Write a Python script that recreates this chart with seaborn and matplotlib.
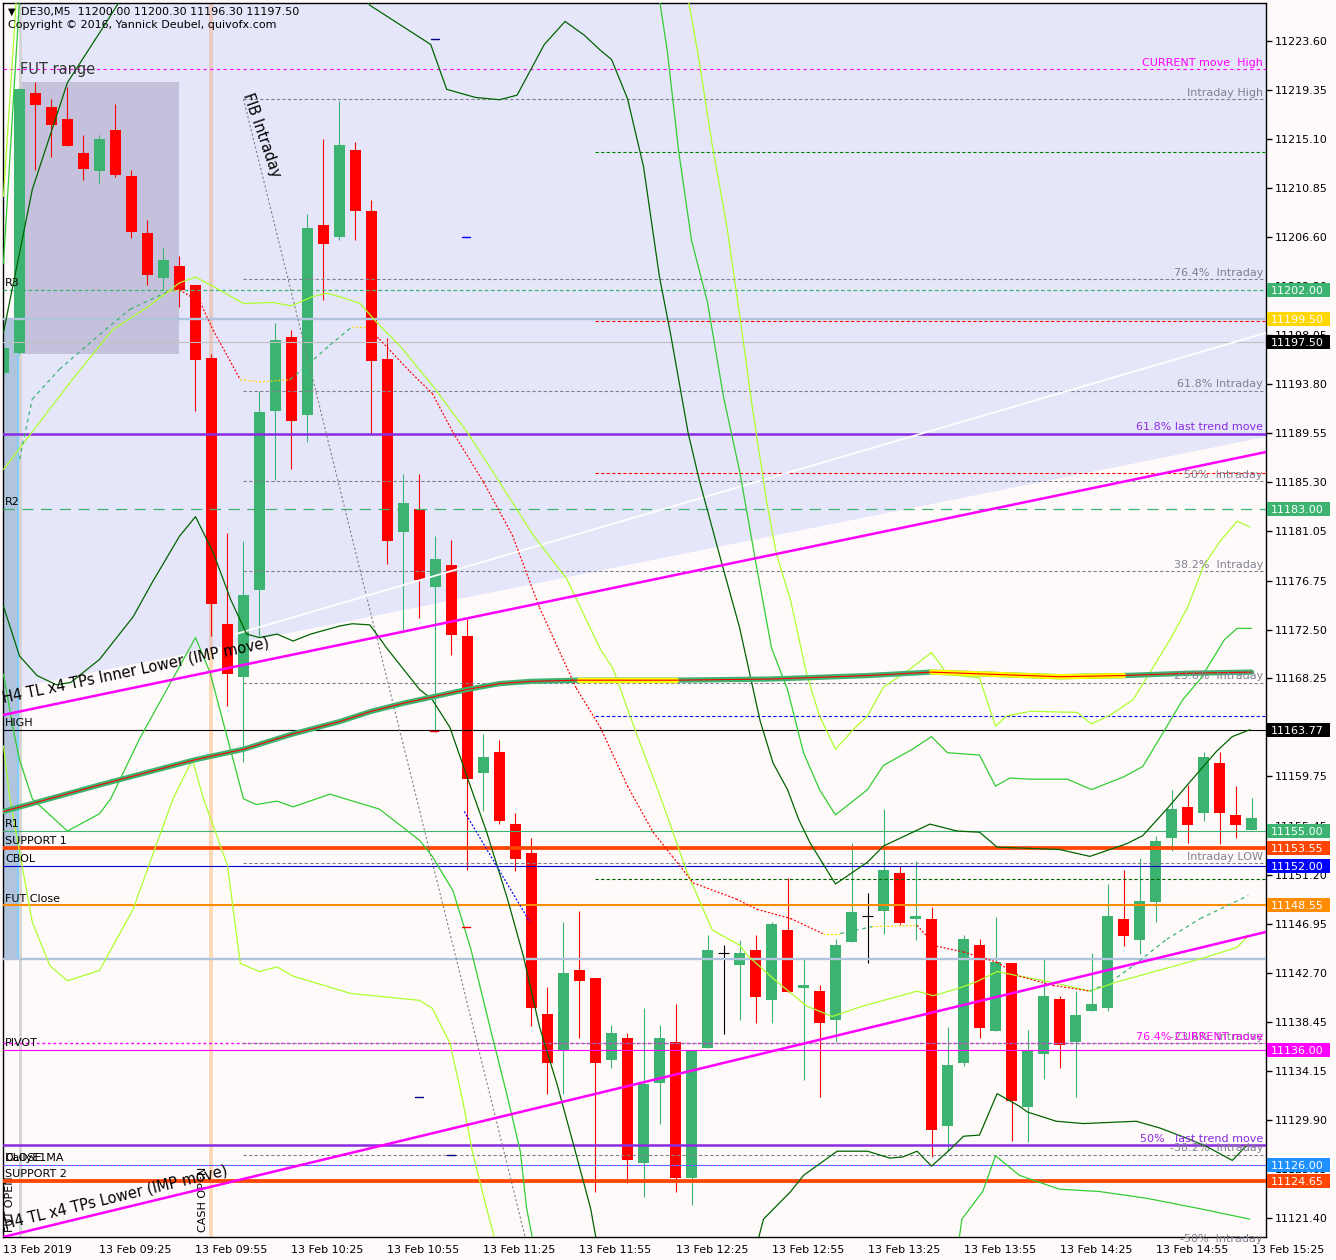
import numpy as np
import pandas as pd
import matplotlib
matplotlib.use("Agg")
import matplotlib.pyplot as plt
import matplotlib.transforms as mtransforms
from matplotlib.patches import Rectangle, Polygon
import seaborn as sns

# ---------------- data ----------------
opens = [11194.8, 11196.5, 11219.1, 11217.9, 11216.8, 11213.9, 11212.3, 11215.9, 11211.9, 11206.9,
         11203.0, 11204.1, 11202.4, 11196.1, 11173.0, 11168.4, 11175.9, 11191.5, 11197.9, 11191.1,
         11207.6, 11206.6, 11214.1, 11208.8, 11196.0, 11181.0, 11183.0, 11176.2, 11178.1, 11171.9,
         11160.0, 11161.9, 11155.6, 11153.1, 11139.1, 11136.0, 11142.9, 11142.2, 11135.1, 11137.0,
         11126.2, 11133.1, 11136.7, 11124.9, 11136.2, 11144.4, 11143.4, 11144.7, 11140.3, 11146.4,
         11141.4, 11141.1, 11138.6, 11145.4, 11147.6, 11148.1, 11151.4, 11147.4, 11147.4, 11129.4,
         11134.9, 11145.1, 11137.6, 11143.5, 11131.0, 11135.6, 11140.4, 11136.7, 11139.4, 11139.6,
         11147.4, 11145.5, 11148.8, 11154.4, 11157.1, 11156.6, 11160.9, 11156.4, 11155.1]
highs = [11197.2, 11219.5, 11220.0, 11218.6, 11219.6, 11215.4, 11215.4, 11218.1, 11212.4, 11208.1,
         11205.6, 11204.9, 11202.4, 11196.4, 11180.9, 11180.2, 11193.2, 11199.1, 11198.5, 11208.6,
         11215.1, 11218.4, 11214.8, 11209.8, 11197.8, 11186.0, 11186.0, 11180.6, 11180.3, 11173.4,
         11163.4, 11162.9, 11156.6, 11154.4, 11141.5, 11147.1, 11148.1, 11142.2, 11138.2, 11137.5,
         11139.6, 11138.2, 11140.0, 11136.0, 11146.0, 11145.1, 11145.5, 11146.0, 11147.1, 11150.9,
         11143.9, 11141.6, 11145.6, 11154.0, 11149.6, 11156.9, 11152.0, 11152.4, 11148.4, 11138.0,
         11146.0, 11145.6, 11147.5, 11143.5, 11137.7, 11143.9, 11140.7, 11141.1, 11144.4, 11150.4,
         11151.6, 11152.7, 11154.6, 11158.6, 11159.0, 11161.9, 11161.9, 11158.9, 11157.9]
lows = [11194.5, 11196.4, 11212.4, 11213.5, 11214.5, 11211.5, 11211.3, 11211.8, 11206.5, 11202.4,
        11202.0, 11200.5, 11191.5, 11171.9, 11165.9, 11161.0, 11171.9, 11185.5, 11186.4, 11188.8,
        11201.1, 11206.3, 11206.3, 11189.6, 11178.2, 11172.5, 11173.5, 11163.6, 11170.3, 11151.6,
        11156.7, 11155.6, 11151.5, 11138.1, 11132.2, 11132.2, 11137.0, 11123.7, 11134.4, 11124.4,
        11123.2, 11129.6, 11123.7, 11122.5, 11136.2, 11137.4, 11138.6, 11138.3, 11138.3, 11141.0,
        11133.4, 11131.9, 11136.7, 11145.4, 11143.5, 11146.1, 11146.8, 11145.5, 11126.7, 11127.2,
        11134.6, 11137.0, 11137.6, 11128.1, 11128.0, 11133.5, 11134.4, 11131.9, 11139.4, 11139.4,
        11145.0, 11144.3, 11147.1, 11153.3, 11154.0, 11155.9, 11153.9, 11154.4, 11155.1]
closes = [11196.9, 11219.4, 11218.0, 11216.3, 11214.5, 11212.5, 11215.1, 11212.0, 11207.0, 11203.3,
          11204.6, 11202.0, 11195.9, 11174.7, 11168.6, 11175.5, 11191.4, 11197.6, 11190.6, 11207.4,
          11206.0, 11214.6, 11208.8, 11195.8, 11180.2, 11183.5, 11176.8, 11178.6, 11172.0, 11159.5,
          11161.4, 11155.9, 11152.6, 11139.6, 11134.9, 11142.7, 11142.0, 11134.9, 11137.5, 11126.4,
          11133.0, 11137.0, 11124.9, 11136.0, 11144.7, 11144.4, 11144.4, 11140.6, 11146.9, 11141.0,
          11141.6, 11138.3, 11145.1, 11148.0, 11147.6, 11151.6, 11147.0, 11147.6, 11129.0, 11134.7,
          11145.6, 11137.9, 11143.6, 11131.6, 11136.0, 11140.7, 11136.4, 11139.0, 11140.0, 11147.6,
          11145.9, 11148.9, 11154.1, 11156.9, 11155.5, 11161.4, 11156.6, 11155.5, 11156.1]
bars = list(range(len(opens)))

time_tick_bars = [0, 6, 12, 18, 24, 30, 36, 42, 48, 54, 60, 66, 72, 78]
time_tick_labels = ['13 Feb 2019', '13 Feb 09:25', '13 Feb 09:55', '13 Feb 10:25', '13 Feb 10:55',
                    '13 Feb 11:25', '13 Feb 11:55', '13 Feb 12:25', '13 Feb 12:55', '13 Feb 13:25',
                    '13 Feb 13:55', '13 Feb 14:25', '13 Feb 14:55', '13 Feb 15:25']
price_tick_labels = ['11223.60', '11219.35', '11215.10', '11210.85', '11206.60', '11202.30', '11198.05',
                     '11193.80', '11189.55', '11185.30', '11181.05', '11176.75', '11172.50', '11168.25',
                     '11164.00', '11159.75', '11155.45', '11151.20', '11146.95', '11142.70', '11138.45',
                     '11134.15', '11129.90', '11125.65', '11121.40']

# pivot style levels (full width, label on the left)
piv_names = ['R3', 'R2', 'HIGH', 'R1', 'SUPPORT 1', 'CBOL', 'FUT Close', 'PIVOT', 'DailyE1MA', 'SUPPORT 2']
piv_prices = [11202.00, 11183.00, 11163.77, 11155.00, 11153.55, 11152.00, 11148.55, 11136.00, 11126.00, 11124.65]
close_label_price = 11126.00

# right-axis price boxes
box_prices = [11202.00, 11199.50, 11197.50, 11183.00, 11163.77, 11155.00, 11153.55, 11152.00,
              11148.55, 11136.00, 11126.00, 11124.65]
box_colors = ['#3cb371', '#ffd700', '#000000', '#3cb371', '#000000', '#3cb371', '#ff4500', '#0000ff',
              '#ff8c00', '#ff00ff', '#1e90ff', '#ff4500']

# intraday fibonacci
fib_start_bar = 15
fib_high = 11218.56
fib_low = 11152.23
fib_ratios = [1.0, 0.764, 0.618, 0.5, 0.382, 0.236, 0.0, -0.236, -0.382, -0.5]
fib_labels = ['Intraday High', '76.4%  Intraday', '61.8% Intraday', '50%  Intraday', '38.2%  Intraday',
              '23.6%  Intraday', 'Intraday LOW', '-23.6%  Intraday', '-38.2%  Intraday', '-50%  Intraday']
fib_diag_bars = [15.0, 32.6]
fib_diag_prices = [11218.56, 11119.75]

current_high = 11221.17
current_764 = 11136.60
trend_618 = 11189.50
trend_50 = 11127.74
range_box_top = 11199.50
range_box_bottom = 11143.89
bid_price = 11197.50

# short dashed levels starting mid-chart
mid_start_bar = 37
mid_levels = [11213.96, 11199.29, 11186.09, 11165.00, 11150.84]
mid_colors = ['#008000', '#ff0000', '#ff0000', '#0000ff', '#006400']

# trend lines (bar, price anchor pairs)
tl_inner_bars = [-0.03, 78.9]
tl_inner_prices = [11165.08, 11187.91]
tl_lower_bars = [-0.03, 78.9]
tl_lower_prices = [11119.75, 11146.24]
channel_white_bars = [14.5, 78.9]
channel_white_prices = [11172.1, 11198.25]
shade_bars = [1.0, 78.9]
shade_prices = [11167.50, 11189.22]

fut_open_bar = 1
cash_open_bar = 13
fut_range_bars = (1, 11)

# moving average (thick)
ma_i = [0, 6, 12, 15, 18, 21, 23, 25, 27, 29, 31, 33, 36, 42, 48, 54, 58, 62, 66, 70, 74, 78]
ma_p = [11156.7, 11159.0, 11161.2, 11162.1, 11163.4, 11164.5, 11165.4, 11166.1, 11166.7, 11167.3,
        11167.8, 11168.0, 11168.1, 11168.1, 11168.2, 11168.5, 11168.8, 11168.6, 11168.4, 11168.5,
        11168.7, 11168.8]

# signal moving average
sig_i = [1.0, 1.8, 3.5, 6.0, 7.9, 10.2, 11.0, 12.3, 13.1, 14.8, 16.0, 17.9, 18.7, 20.4, 21.8, 22.7,
         23.5, 25.4, 26.8, 28.1, 30.0, 31.8, 33.5, 35.8, 37.3, 39.0, 40.6, 41.8, 43.1, 45.8, 47.1,
         49.2, 51.2, 52.3, 54.3, 57.1, 58.3, 60.0, 62.1, 63.5, 65.6, 67.9, 69.2, 70.6, 72.7, 74.8, 77.8]
sig_p = [11187.3, 11192.5, 11195.1, 11198.1, 11200.3, 11201.8, 11202.0, 11200.9, 11198.5, 11194.2,
         11194.0, 11194.2, 11195.1, 11197.2, 11198.8, 11198.8, 11197.7, 11194.9, 11193.0, 11189.6,
         11185.3, 11180.7, 11174.4, 11167.4, 11164.0, 11158.9, 11154.9, 11152.8, 11150.5, 11149.1,
         11148.2, 11147.4, 11146.1, 11146.1, 11146.7, 11146.8, 11145.0, 11144.5, 11143.6, 11142.4,
         11141.6, 11141.1, 11141.9, 11143.3, 11145.6, 11147.4, 11149.4]

# slow yellow-green average
yg_mid_i = [0, 4.3, 6.8, 9.0, 11.0, 12.0, 13.1, 15.0, 16.8, 18.0, 19.3, 20.2, 21.0, 22.3, 23.3, 24.8,
            26.8, 29.0, 31.0, 33.1, 35.2, 37.3, 38.1, 39.6, 41.0, 42.7, 44.3, 46.0, 46.5, 48.1, 50.2,
            51.8, 53.7, 55.8, 57.1, 58.1, 59.6, 60.8, 62.1, 63.5, 65.4, 67.9, 69.6, 74.8, 77.1, 77.8]
yg_mid_p = [11186.4, 11194.2, 11198.5, 11200.5, 11202.6, 11203.1, 11202.3, 11200.8, 11200.9, 11200.6,
            11201.4, 11201.7, 11201.4, 11200.8, 11199.2, 11197.1, 11193.7, 11189.6, 11185.3, 11180.7,
            11176.9, 11170.8, 11169.1, 11163.3, 11158.2, 11151.5, 11146.4, 11145.1, 11144.2, 11142.2,
            11139.8, 11138.9, 11139.8, 11140.6, 11141.1, 11140.7, 11141.3, 11141.9, 11142.8, 11142.4,
            11141.9, 11141.1, 11141.9, 11143.9, 11144.9, 11145.9]

# dark green envelope
dg_up_i = [0, 1.8, 4.0, 6.0, 7.1, 10, 20, 22.9, 26.7, 27.7, 29.5, 31.0, 32.1, 33.8, 35.1, 36.3, 37.3,
           38.0, 39.0, 40.0, 41.0, 41.7, 42.8, 43.5, 45.0, 46.0, 47.3, 48.1, 49.0, 49.7, 50.4, 52.0,
           54.0, 55.0, 57.9, 59.6, 61.0, 62.1, 66.0, 67.9, 70.2, 71.2, 72.7, 74.3, 75.8, 76.8, 77.9]
dg_up_p = [11198.3, 11210.7, 11220.0, 11224.3, 11226.7, 11233.0, 11233.0, 11226.7, 11223.3, 11219.4,
           11218.7, 11218.5, 11218.9, 11223.3, 11225.3, 11224.1, 11222.8, 11222.0, 11218.6, 11212.7,
           11203.1, 11198.1, 11189.5, 11185.4, 11177.7, 11172.7, 11164.5, 11160.9, 11158.6, 11156.0,
           11154.0, 11150.4, 11152.3, 11153.7, 11155.6, 11155.0, 11154.9, 11153.6, 11153.4, 11152.8,
           11153.9, 11154.6, 11156.9, 11159.5, 11161.9, 11163.2, 11163.8]
dg_lo_i = [0, 1.0, 2.1, 3.3, 4.2, 6.0, 8.1, 9.3, 11.0, 12.0, 13.1, 14.2, 15.2, 16.0, 17.1, 18.1, 19.2,
           21.0, 21.8, 22.9, 24.0, 26.0, 26.8, 27.9, 29.0, 30.2, 31.5, 32.5, 33.5, 34.6, 35.6, 36.7,
           37.5, 46.5, 47.5, 49.2, 50.0, 51.2, 52.1, 54.0, 55.4, 56.2, 57.1, 58.0, 59.2, 60.0, 61.0,
           62.1, 63.5, 64.0, 65.8, 67.5, 70.8, 72.3, 74.0, 75.2, 76.8, 77.7]
dg_lo_p = [11174.5, 11170.2, 11168.5, 11167.7, 11167.9, 11169.9, 11173.6, 11176.6, 11180.6, 11182.3,
           11179.2, 11175.1, 11172.1, 11171.8, 11172.1, 11171.5, 11172.1, 11172.8, 11173.0, 11172.9,
           11170.8, 11167.3, 11166.4, 11164.0, 11159.6, 11154.9, 11149.1, 11144.1, 11138.0, 11133.0,
           11127.9, 11122.2, 11116.0, 11116.0, 11121.3, 11123.7, 11125.1, 11126.3, 11127.2, 11127.2,
           11126.6, 11126.7, 11127.2, 11125.9, 11127.4, 11128.5, 11128.6, 11132.2, 11131.1, 11130.6,
           11129.8, 11129.6, 11129.8, 11129.2, 11128.3, 11127.6, 11126.4, 11127.7]

# lime green envelope
lg_up_i = [0, 1.0, 4, 38, 41.0, 41.5, 42.2, 43.0, 44.0, 45.0, 46.0, 47.1, 48.0, 49.0, 50.0, 51.0,
           52.0, 54.0, 55.0, 56.8, 58.0, 59.0, 61.0, 62.0, 62.9, 64.2, 66.5, 68.0, 70.0, 71.2, 72.5,
           73.7, 74.8, 76.3, 77.1, 78.0]
lg_up_p = [11204.3, 11227.2, 11234.0, 11234.0, 11227.2, 11222.6, 11214.0, 11206.3, 11200.9, 11192.7,
           11186.3, 11177.7, 11170.9, 11167.3, 11161.8, 11158.6, 11156.4, 11158.6, 11160.7, 11162.1,
           11163.2, 11161.8, 11161.6, 11158.9, 11159.6, 11159.5, 11159.5, 11158.6, 11159.7, 11160.6,
           11163.6, 11166.4, 11168.2, 11171.6, 11172.6, 11172.6]
lg_lo_i = [0, 0.6, 1.0, 1.8, 4.0, 6.0, 6.7, 8.5, 12.0, 12.9, 15.0, 15.8, 17.1, 18.1, 20.4, 23.5, 26.0,
           26.8, 28.1, 29.2, 30.4, 31.5, 32.3, 32.7, 33.8, 59.2, 59.9, 61.2, 62.0, 63.5, 66.0, 68.5,
           71.5, 74.8, 77.9]
lg_lo_p = [11168.6, 11163.9, 11161.2, 11157.8, 11155.0, 11156.5, 11157.8, 11163.0, 11171.8, 11168.8,
           11157.8, 11157.3, 11157.6, 11157.1, 11158.2, 11156.9, 11154.2, 11152.8, 11149.8, 11144.8,
           11138.0, 11131.9, 11127.2, 11122.2, 11114.4, 11114.4, 11121.3, 11123.7, 11126.8, 11125.1,
           11123.9, 11123.7, 11123.1, 11122.2, 11121.3]

# yellow-green envelope
yg_up_i = [0, 0.8, 4, 40, 42.8, 43.5, 44.3, 45.2, 46.0, 46.8, 47.7, 48.3, 49.2, 50.2, 51.0, 52.0,
           53.1, 54.0, 55.0, 56.5, 58.0, 59.0, 61.0, 62.0, 62.7, 64.2, 67.1, 68.0, 69.2, 70.6, 72.9,
           74.0, 75.0, 76.0, 77.1, 77.9]
yg_up_p = [11210.1, 11227.2, 11234.0, 11234.0, 11227.2, 11221.7, 11214.5, 11207.6, 11199.9, 11191.8,
           11183.6, 11179.1, 11175.0, 11168.6, 11165.0, 11162.1, 11163.8, 11165.0, 11167.5, 11168.9,
           11170.5, 11168.6, 11168.3, 11164.1, 11165.0, 11165.4, 11165.3, 11164.3, 11165.1, 11166.4,
           11171.6, 11174.4, 11178.0, 11180.1, 11181.9, 11181.4]
yg_lo_i = [0, 0.4, 1.8, 2.9, 4.0, 6.0, 8.1, 9.6, 10.6, 11.8, 12.5, 14.0, 14.8, 16.0, 17.1, 18.1, 21.7,
           26.0, 26.8, 27.9, 28.7, 29.3, 30.2, 30.7, 31.3]
yg_lo_p = [11162.4, 11157.8, 11147.1, 11143.3, 11142.0, 11142.9, 11148.2, 11154.0, 11157.8, 11161.2,
           11157.8, 11152.0, 11143.5, 11142.8, 11143.2, 11142.4, 11140.9, 11140.3, 11139.6, 11136.6,
           11131.6, 11127.2, 11122.2, 11119.6, 11114.4]

# zigzag projection (blue dotted)
proj_i = [28.8, 32.9]
proj_p = [11156.7, 11147.1]

# small dash marks
dash_i = [27.0, 28.9, 28.9, 26.0, 28.0, 26.9]
dash_p = [11223.8, 11206.6, 11146.7, 11131.9, 11126.9, 11163.7]
dash_c = ['#000080', '#0000ff', '#ff0000', '#000080', '#000080', '#ff0000']

# ---------------- figure ----------------
sns.set_theme(style='white')
plt.rcParams['font.family'] = ['DejaVu Sans']
plt.rcParams['axes.linewidth'] = 1.0

W, H = 1336, 1260
fig = plt.figure(figsize=(W / 100, H / 100), dpi=100, facecolor='#fffafa')
ax = fig.add_axes([3 / W, 23 / H, 1263 / W, 1234 / H])
ax.set_facecolor('#fffafa')
XMIN, XMAX = -0.031, 78.906
YMIN, YMAX = 11119.75, 11226.90
trans = mtransforms.blended_transform_factory(ax.transAxes, ax.transData)
PPU = 11.517  # pixels per price unit


def sline(x, y, **kw):
    sns.lineplot(x=list(x), y=list(y), ax=ax, sort=False, estimator=None, legend=False, **kw)


# background shading
shade_poly = Polygon([(shade_bars[0], YMAX + 5), (XMAX + 1, YMAX + 5),
                      (shade_bars[1], shade_prices[1]), (shade_bars[0], shade_prices[0])],
                     closed=True, facecolor='#e6e6fa', edgecolor='none', zorder=0.3)
ax.add_patch(shade_poly)
fr_lo = min(lows[fut_range_bars[0]:fut_range_bars[1] + 1])
fr_hi = max(highs[fut_range_bars[0]:fut_range_bars[1] + 1])
ax.add_patch(Rectangle((fut_range_bars[0], fr_lo), fut_range_bars[1] - fut_range_bars[0], fr_hi - fr_lo,
                       facecolor='#c5c1dc', edgecolor='none', zorder=0.4))
ax.add_patch(Rectangle((-2, range_box_bottom), 2.82, range_box_top - range_box_bottom,
                       facecolor='#b0c4de', edgecolor='none', zorder=0.4))
ax.vlines(0.93, range_box_bottom, range_box_top, colors='#87cefa', lw=1.5, zorder=0.45)
ax.axvline(fut_open_bar + 0.05, color='#d3d3d3', lw=2.0, zorder=0.45)
ax.axvline(cash_open_bar - 0.03, color='#ffdab9', lw=2.9, zorder=0.45)
ax.vlines(cash_open_bar - 0.03, shade_prices[0] + (shade_prices[1] - shade_prices[0]) * (cash_open_bar - shade_bars[0]) / (shade_bars[1] - shade_bars[0]),
          YMAX + 2, colors='#e8c9c4', lw=2.9, zorder=0.46)

ax.text(0.0055, YMIN + 0.4, 'FUT OPEN', transform=trans, rotation=90, ha='center', va='bottom',
        fontsize=8, color='black', zorder=0.6)
ax.text((203 - 3) / 1263, YMIN + 0.4, 'CASH OPEN', transform=trans, rotation=90, ha='center', va='bottom',
        fontsize=8, color='black', zorder=0.6)

# candles
bull, bear = '#3cb371', '#ff0000'
cols = [bull if c > o else (bear if c < o else 'black') for o, c in zip(opens, closes)]
ax.vlines(bars, lows, highs, colors=cols, lw=0.8, zorder=2)
for i, o, c, col in zip(bars, opens, closes, cols):
    if c != o:
        ax.bar(i, abs(c - o), bottom=min(o, c), width=0.69, color=col, linewidth=0, zorder=2.1)
    else:
        ax.hlines(o, i - 0.35, i + 0.35, colors='black', lw=0.8, zorder=2.1)

# full-width levels
piv_style = {
    'R3': dict(color='#3cb371', lw=0.9, ls=(0, (3, 2))),
    'R2': dict(color='#3cb371', lw=0.9, ls=(0, (9, 6))),
    'HIGH': dict(color='#000000', lw=0.8, ls='-'),
    'R1': dict(color='#3cb371', lw=0.8, ls='-'),
    'SUPPORT 1': dict(color='#ff4500', lw=2.7, ls='-'),
    'CBOL': dict(color='#0000cd', lw=0.8, ls='-'),
    'FUT Close': dict(color='#ff8c00', lw=1.5, ls='-'),
    'PIVOT': dict(color='#ff00ff', lw=0.8, ls='-'),
    'DailyE1MA': dict(color='#1e90ff', lw=0.8, ls='-'),
    'SUPPORT 2': dict(color='#ff4500', lw=2.7, ls='-'),
}
for name, p in zip(piv_names, piv_prices):
    st = piv_style[name]
    ax.axhline(p, color=st['color'], lw=st['lw'], linestyle=st['ls'], zorder=3)
    ax.text(2 / 1263, p + 0.15, name, transform=trans, fontsize=8, color='black', va='bottom', ha='left', zorder=6)
ax.text(2 / 1263, close_label_price + 0.15, 'CLOSE', transform=trans, fontsize=8, color='black',
        va='bottom', ha='left', zorder=6)
ax.axhline(close_label_price, color='#ff00ff', lw=0.6, linestyle=(0, (2, 3)), zorder=3)

ax.axhline(range_box_top, color='#b0c4de', lw=1.7, zorder=2.9)
ax.axhline(range_box_bottom, color='#b0c4de', lw=1.7, zorder=2.9)
ax.axhline(bid_price, color='#c0c0c0', lw=0.8, zorder=2.9)
ax.axhline(current_high, color='#ff00ff', lw=0.8, linestyle=(0, (3, 3)), zorder=3)
ax.axhline(current_764, color='#ff00ff', lw=1.0, linestyle=(0, (2, 2)), zorder=3)
ax.axhline(trend_618, color='#8a2be2', lw=1.8, zorder=3)
ax.axhline(trend_50, color='#8a2be2', lw=1.8, zorder=3)

# intraday fib
for r, lab in zip(fib_ratios, fib_labels):
    lvl = fib_low + r * (fib_high - fib_low)
    ax.hlines(lvl, fib_start_bar, XMAX + 1, colors='#808090', lw=0.8, linestyles=(0, (3, 2)), zorder=3)
    ax.text(0.9976, lvl + 0.12, lab, transform=trans, fontsize=8, color='#808090', ha='right', va='bottom', zorder=6)
ax.plot(fib_diag_bars, fib_diag_prices, color='#808080', lw=0.8, linestyle=(0, (2, 2)), zorder=3)
ax.text(16.16, 11215.44, 'FIB Intraday', fontsize=10.5, rotation=-70.8, rotation_mode='anchor',
        ha='center', va='center', color='black', zorder=6)

# right-hand labels for other levels
ax.text(0.9976, current_high + 0.12, 'CURRENT move  High', transform=trans, fontsize=8, color='#ff00ff',
        ha='right', va='bottom', zorder=6)
ax.text(0.9976, current_764 + 0.12, '76.4% CURRENT move', transform=trans, fontsize=8, color='#ff00ff',
        ha='right', va='bottom', zorder=6)
ax.text(0.9976, trend_618 + 0.12, '61.8% last trend move', transform=trans, fontsize=8, color='#8a2be2',
        ha='right', va='bottom', zorder=6)
ax.text(0.9976, trend_50 + 0.12, '50%   last trend move', transform=trans, fontsize=8, color='#8a2be2',
        ha='right', va='bottom', zorder=6)

# mid-chart dashed levels
for p, c in zip(mid_levels, mid_colors):
    ax.hlines(p, mid_start_bar, XMAX + 1, colors=c, lw=0.8, linestyles=(0, (3, 2)), zorder=3)

# bands / averages
sline(dg_up_i, dg_up_p, color='#006400', lw=0.9, zorder=3.4)
sline(dg_lo_i, dg_lo_p, color='#006400', lw=0.9, zorder=3.4)
sline(lg_up_i, lg_up_p, color='#32cd32', lw=0.9, zorder=3.4)
sline(lg_lo_i, lg_lo_p, color='#32cd32', lw=0.9, zorder=3.4)
sline(yg_up_i, yg_up_p, color='#adff2f', lw=0.9, zorder=3.4)
sline(yg_lo_i, yg_lo_p, color='#adff2f', lw=0.9, zorder=3.4)
sline(yg_mid_i, yg_mid_p, color='#adff2f', lw=0.9, zorder=3.45)

# thick MA
sline(ma_i, ma_p, color='#3cb371', lw=3.8, zorder=3.5)
for a, b in [(36, 43), (58, 70)]:
    seg = [(i, p) for i, p in zip(ma_i, ma_p) if a <= i <= b]
    sline([s[0] for s in seg], [s[1] for s in seg], color='#ffff00', lw=3.8, zorder=3.51)
sline(ma_i, ma_p, color='#ff0000', lw=0.8, zorder=3.52)

# signal MA coloured by direction
for j in range(len(sig_i) - 1):
    d = sig_p[j + 1] - sig_p[j]
    if d > 0.25:
        c, ls = '#3cb371', (0, (3, 3))
    elif d < -0.25:
        c, ls = '#ff0000', (0, (1.5, 1.5))
    else:
        c, ls = '#ffd700', (0, (1.5, 1.5))
    ax.plot(sig_i[j:j + 2], sig_p[j:j + 2], color=c, lw=0.9, linestyle=ls, zorder=3.6)

ax.plot(proj_i, proj_p, color='#0000ff', lw=0.9, linestyle=(0, (1.5, 1.5)), zorder=3.6)
for i, p, c in zip(dash_i, dash_p, dash_c):
    ax.plot([i - 0.25, i + 0.25], [p, p], color=c, lw=1.0, zorder=3.6)

# trend lines
ax.plot(channel_white_bars, channel_white_prices, color='white', lw=1.3, zorder=3.3)
ax.plot(tl_inner_bars, tl_inner_prices, color='#ff00ff', lw=1.8, zorder=3.7)
ax.plot(tl_lower_bars, tl_lower_prices, color='#ff00ff', lw=1.8, zorder=3.7)
ax.text(-0.03, 11166.12, 'H4 TL x4 TPs Inner Lower (IMP move)', fontsize=10.5, rotation=11.8,
        rotation_mode='anchor', ha='left', va='baseline', color='black', zorder=6)
ax.text(0.1, 11120.45, 'H4 TL x4 TPs Lower (IMP move)', fontsize=10.5, rotation=13.6,
        rotation_mode='anchor', ha='left', va='baseline', color='black', zorder=6)

# top-left texts
ax.text(1.03, 11221.1, 'FUT range', fontsize=10.5, color='#333333', ha='left', va='center', zorder=6)
fig.text(8 / W, 1 - 12 / H, '\u25bc', fontsize=7, color='black', ha='left', va='center')
fig.text(21 / W, 1 - 12 / H, 'DE30,M5  11200.00 11200.30 11196.30 11197.50', fontsize=8,
         color='black', ha='left', va='center')
fig.text(8 / W, 1 - 25 / H, 'Copyright \u00a9 2016, Yannick Deubel, quivofx.com', fontsize=8,
         color='black', ha='left', va='center')

# axes / ticks
ax.set_xlim(XMIN, XMAX)
ax.set_ylim(YMIN, YMAX)
ax.yaxis.tick_right()
ax.set_yticks([float(s) for s in price_tick_labels])
ax.set_yticklabels(price_tick_labels)
ax.set_xticks(time_tick_bars)
ax.set_xticklabels(time_tick_labels, ha='left')
ax.tick_params(axis='both', direction='out', length=4, width=1, colors='black', labelsize=8)
ax.tick_params(axis='y', pad=2)
ax.tick_params(axis='x', pad=2)
ax.set_xlabel('')
ax.set_ylabel('')
for sp in ax.spines.values():
    sp.set_visible(True)
    sp.set_color('black')
    sp.set_linewidth(1.0)

# right axis price boxes
bh = 14 / PPU
for p, c in zip(box_prices, box_colors):
    ax.add_patch(Rectangle((1.0008, p - bh / 2), 63 / 1263, bh, transform=trans, facecolor=c,
                           edgecolor='none', clip_on=False, zorder=10))
    ax.text(1.0008 + 4 / 1263, p, f'{p:.2f}', transform=trans, color='white', fontsize=8,
            ha='left', va='center_baseline', clip_on=False, zorder=11)

fig.savefig('out.png', dpi=100, facecolor=fig.get_facecolor())
